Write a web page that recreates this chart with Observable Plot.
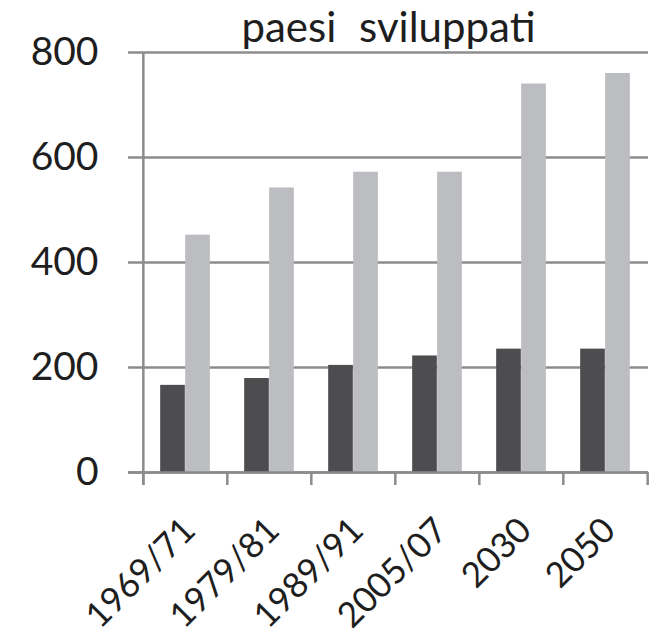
<!DOCTYPE html>
<html>
<head>
<meta charset="utf-8">
<script src="https://cdn.jsdelivr.net/npm/d3@7"></script>
<script src="https://cdn.jsdelivr.net/npm/@observablehq/plot@0.6"></script>
<style>
  html, body { margin: 0; padding: 0; background: #fff; }
  .title-text text { word-spacing: 12px; }
</style>
</head>
<body>
<div id="chart"></div>
<script>
const title = "paesi sviluppati";
const categories = ["1969/71", "1979/81", "1989/91", "2005/07", "2030", "2050"];
const seriesDark = [166, 179, 204, 222, 235, 235];
const seriesLight = [452, 542, 572, 572, 740, 760];
const yTicks = [0, 200, 400, 600, 800];

const W = 662, H = 643;
const mL = 142, mR = 14, mT = 52, mB = 171;
const bw = (W - mL - mR) / categories.length;
const barW = 25;
const side = (bw - 2 * barW) / 2;

const dark = categories.map((c, i) => ({cat: c, v: seriesDark[i]}));
const light = categories.map((c, i) => ({cat: c, v: seriesLight[i]}));

const font = "Lato, 'Open Sans', sans-serif";
const grid = "#8c8c8c";
const textColor = "#1e1e1e";

const chart = Plot.plot({
  width: W,
  height: H,
  marginLeft: mL,
  marginRight: mR,
  marginTop: mT,
  marginBottom: mB,
  style: {fontFamily: font, background: "#fff"},
  x: {domain: categories, padding: 0, label: null},
  y: {domain: [0, 800], label: null},
  marks: [
    Plot.ruleY(yTicks, {stroke: grid, strokeWidth: 2.5, insetLeft: -14}),
    Plot.barY(dark, {x: "cat", y: "v", fill: "#4d4d4f",
      insetLeft: side, insetRight: side + barW}),
    Plot.barY(light, {x: "cat", y: "v", fill: "#bcbdc0",
      insetLeft: side + barW, insetRight: side}),
    Plot.ruleY([0], {stroke: grid, strokeWidth: 2.5, insetLeft: -14}),
    // y axis line
    Plot.ruleX([categories[0]], {x: d => d, dx: -bw / 2, y1: 800, y2: 0, insetBottom: -13, stroke: grid, strokeWidth: 2.5}),
    // category boundary ticks
    Plot.ruleX(categories, {x: d => d, dx: -bw / 2, y1: 0, y2: 0, insetBottom: -13, stroke: grid, strokeWidth: 2.5}),
    Plot.ruleX([categories[categories.length - 1]], {x: d => d, dx: bw / 2, y1: 0, y2: 0, insetBottom: -13, stroke: grid, strokeWidth: 2.5}),
    Plot.axisX({tickSize: 0, tickRotate: -45, fontSize: 35, tickPadding: 14, textAnchor: "end", fill: textColor, dx: 4, dy: 38}),
    Plot.axisY({ticks: yTicks, tickSize: 0, tickPadding: 44, fontSize: 39, fill: textColor}),
    Plot.text([title], {frameAnchor: "top", lineAnchor: "middle", dy: -23.5, dx: -7, fontSize: 42, fill: textColor, className: "title-text"})
  ]
});

document.getElementById("chart").append(chart);
</script>
</body>
</html>
